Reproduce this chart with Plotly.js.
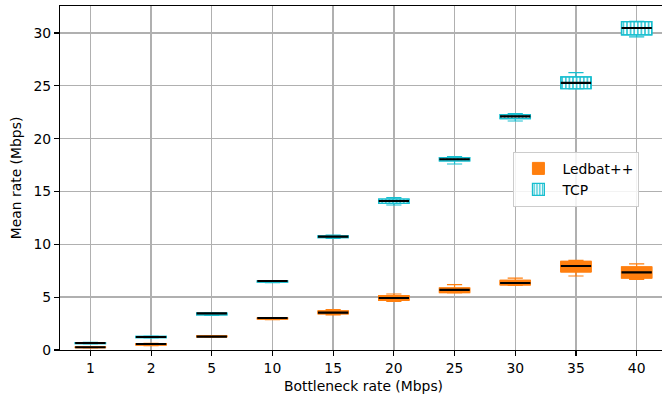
<!DOCTYPE html>
<html>
<head>
<meta charset="utf-8">
<script src="https://cdn.plot.ly/plotly-3.0.1.min.js"></script>
<style>
  html, body { margin: 0; padding: 0; overflow: hidden; background: #fff; }
  #chart { width: 668px; height: 399px; }
</style>
</head>
<body>
<div id="chart"></div>
<script>
// Bottleneck rates (Mbps), used as categories on the x axis
const categories = ['1', '2', '5', '10', '15', '20', '25', '30', '35', '40'];

// Ledbat++ mean-rate distribution per bottleneck rate (Mbps)
const ledbatLow    = [0.20, 0.42, 1.22, 2.88, 3.32, 4.60, 5.40, 6.12, 7.00, 6.69];
const ledbatQ1     = [0.22, 0.47, 1.24, 2.92, 3.42, 4.70, 5.43, 6.15, 7.38, 6.81];
const ledbatMedian = [0.26, 0.57, 1.27, 3.03, 3.54, 4.92, 5.68, 6.34, 7.95, 7.35];
const ledbatQ3     = [0.29, 0.60, 1.35, 3.05, 3.70, 5.15, 5.87, 6.60, 8.39, 7.86];
const ledbatHigh   = [0.30, 0.62, 1.37, 3.06, 3.82, 5.30, 6.19, 6.81, 8.49, 8.14];

// TCP mean-rate distribution per bottleneck rate (Mbps)
const tcpLow    = [0.58, 1.15, 3.28, 6.38, 10.55, 13.72, 17.60, 21.67, 24.70, 29.62];
const tcpQ1     = [0.60, 1.18, 3.32, 6.42, 10.62, 13.88, 17.89, 21.90, 24.72, 29.81];
const tcpMedian = [0.66, 1.23, 3.47, 6.53, 10.72, 14.10, 18.05, 22.10, 25.27, 30.47];
const tcpQ3     = [0.70, 1.30, 3.50, 6.55, 10.80, 14.29, 18.20, 22.27, 25.84, 31.08];
const tcpHigh   = [0.72, 1.32, 3.52, 6.57, 10.88, 14.42, 18.30, 22.37, 26.25, 31.10];

const ORANGE = '#ff7f0e';
const CYAN = '#17becf';
const FONT = 'DejaVu Sans, Liberation Sans, sans-serif';
const BOX_W = 0.5;

const span = (lo, hi) => hi.map((v, i) => v - lo[i]);

// Box bodies as bars from Q1 to Q3 (bars support hatch patterns)
const ledbatBody = {
  type: 'bar', name: 'Ledbat++', x: categories,
  base: ledbatQ1, y: span(ledbatQ1, ledbatQ3), width: BOX_W,
  marker: { color: ORANGE, line: { color: ORANGE, width: 1 } },
  hoverinfo: 'skip'
};
const tcpBody = {
  type: 'bar', name: 'TCP', x: categories,
  base: tcpQ1, y: span(tcpQ1, tcpQ3), width: BOX_W,
  marker: {
    color: '#ffffff',
    line: { color: CYAN, width: 1.2 },
    pattern: { shape: '|', fgcolor: CYAN, bgcolor: '#ffffff', size: 3.6, solidity: 0.4 }
  },
  hoverinfo: 'skip'
};

// Whiskers and caps
function whiskerBox(lo, q1, med, q3, hi, color) {
  return {
    type: 'box', x: categories, lowerfence: lo, q1: q1, median: med, q3: q3, upperfence: hi,
    width: BOX_W, whiskerwidth: 0.5, boxpoints: false,
    line: { color: color, width: 1.2 }, fillcolor: 'rgba(0,0,0,0)',
    showlegend: false, hoverinfo: 'skip'
  };
}

// Black median bars drawn as flat boxes at the median value
function medianLine(med) {
  return {
    type: 'box', x: categories, lowerfence: med, q1: med, median: med, q3: med, upperfence: med,
    width: BOX_W, whiskerwidth: 0, boxpoints: false,
    line: { color: '#000000', width: 2.2 }, fillcolor: 'rgba(0,0,0,0)',
    showlegend: false, hoverinfo: 'skip'
  };
}

const data = [
  ledbatBody, tcpBody,
  whiskerBox(ledbatLow, ledbatQ1, ledbatMedian, ledbatQ3, ledbatHigh, ORANGE),
  whiskerBox(tcpLow, tcpQ1, tcpMedian, tcpQ3, tcpHigh, CYAN),
  medianLine(ledbatMedian),
  medianLine(tcpMedian)
];

const axisCommon = {
  showline: true, linecolor: '#000', linewidth: 1.1, mirror: true,
  ticks: 'outside', ticklen: 5, tickwidth: 1.1, tickcolor: '#000',
  showgrid: true, gridcolor: '#b0b0b0', gridwidth: 1.4,
  zeroline: false, automargin: false,
  tickfont: { family: FONT, size: 13.9, color: '#000' }
};

const layout = {
  width: 668, height: 399,
  margin: { l: 60, r: 1, t: 6, b: 49 },
  paper_bgcolor: '#fff', plot_bgcolor: '#fff',
  font: { family: FONT, size: 13.9, color: '#000' },
  barmode: 'overlay', boxmode: 'overlay',
  xaxis: Object.assign({}, axisCommon, {
    type: 'category', range: [-0.5, 9.5],
    title: { text: 'Bottleneck rate (Mbps)', font: { family: FONT, size: 13.9, color: '#000' }, standoff: 6 }
  }),
  yaxis: Object.assign({}, axisCommon, {
    range: [0, 32.55], tick0: 0, dtick: 5,
    title: { text: 'Mean rate (Mbps)', font: { family: FONT, size: 13.9, color: '#000' }, standoff: 8 }
  }),
  legend: {
    x: 0.747, y: 0.576, xanchor: 'left', yanchor: 'top',
    bgcolor: 'rgba(255,255,255,0.85)', bordercolor: '#cccccc', borderwidth: 1,
    font: { family: FONT, size: 13.9, color: '#000' },
    traceorder: 'normal', itemwidth: 38
  },
  showlegend: true
};

Plotly.newPlot('chart', data, layout, { displayModeBar: false, staticPlot: true });
</script>
</body>
</html>
